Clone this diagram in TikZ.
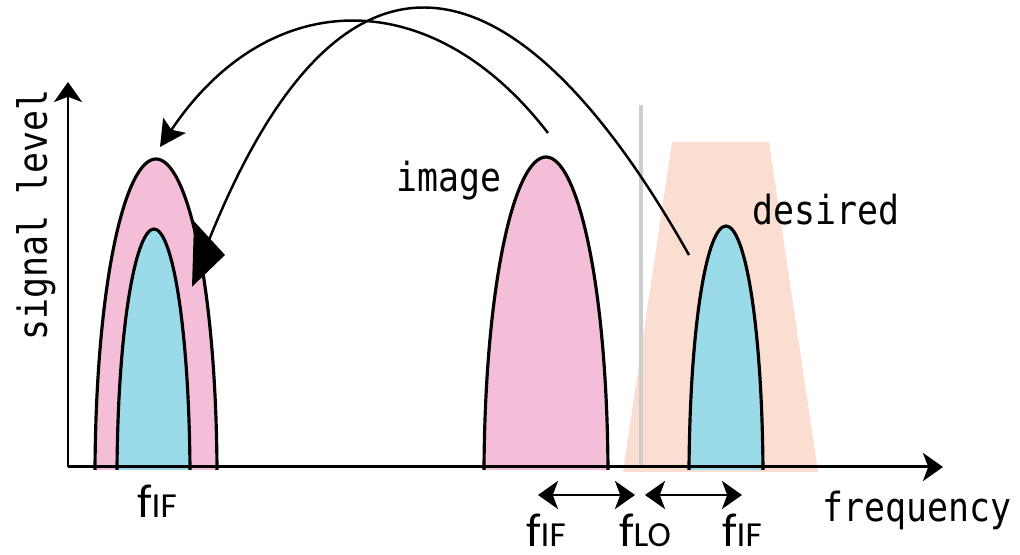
\documentclass[tikz,border=0pt]{standalone}
\usepackage{fontspec}
\usetikzlibrary{arrows.meta}
\newfontfamily\gothic[FakeStretch=0.87]{DejaVu Sans Mono}
\newfontfamily\calib{Carlito}
\newcommand\flab[1]{{\calib\fontsize{13.5}{14}\selectfont f\fontsize{10}{12}\selectfont #1}}
\definecolor{pk}{RGB}{244,190,217}
\definecolor{bl}{RGB}{155,218,232}
\definecolor{pc}{RGB}{250,222,209}
\definecolor{gr}{RGB}{205,205,205}
\tikzset{
  >={Stealth[length=5.7pt,width=8pt,inset=1.5pt]},
  ax/.style={line width=0.85pt,->},
  hp/.style={line width=0.9pt},
  arc/.style={line width=0.7pt},
  tx/.style={font=\gothic\fontsize{11.4}{12}\selectfont,inner sep=0pt,anchor=base},
  fl/.style={inner sep=0pt,anchor=base},
}
\begin{document}
\begin{tikzpicture}[x=0.01cm,y=-0.01cm]
\useasboundingbox (0,0) rectangle (1020,555);
% band around the desired signal, and f_LO
\fill[pc] (623,472)--(672,142)--(769,142)--(818,472)--cycle;
\coordinate (lo0) at (641,467); \coordinate (lo1) at (641,105);
\draw[gr,line width=1.1pt] (lo0)--(lo1);
% spectra
\draw[hp,fill=pk] (95,470) .. controls (96,283) and (125,159) .. (156,159) .. controls (187,159) and (216,283) .. (217,470);
\draw[hp,fill=bl] (117,470) .. controls (118,325) and (136,229) .. (154,229) .. controls (172,229) and (189,325) .. (190,470);
\draw[hp,fill=pk] (484,470) .. controls (485,282) and (515,157) .. (546,157) .. controls (577,157) and (607,282) .. (608,470);
\draw[hp,fill=bl] (689,470) .. controls (690,324) and (707,226) .. (726,226) .. controls (745,226) and (762,324) .. (763,470);
% axes
\coordinate (o) at (68,467); \coordinate (ytop) at (68,82); \coordinate (xend) at (943,467);
\draw[ax] (o)--(ytop); \draw[ax] (o)--(xend);
\node[tx,rotate=90] (yl) at (47,215) {signal level};
\node[tx] (frq) at (917,522) {frequency};
\node[tx] (img) at (449,192) {image};
\node[tx] (des) at (826,225) {desired};
% mixing arcs
\coordinate (a1s) at (548,133); \coordinate (a1e) at (160,147);
\coordinate (a2s) at (689,255); \coordinate (a2e) at (207,245);
\coordinate (h2b) at (193,254); \coordinate (h2t) at (225,255);
\draw[arc,-{Stealth[length=7.4pt,width=7.7pt,inset=1.5pt]}] (a1s) .. controls (430,-20) and (267,-13) .. (a1e);
\draw[arc] (a2s) .. controls (520,-45) and (344,-100) .. (a2e);
\draw[arc,-{Triangle[length=9.1pt,width=18.5pt]}] (h2b)--(h2t);
% frequency labels
\node[fl] (f0) at (157,518) {\flab{IF}};
\node[fl] (f1) at (546,547) {\flab{IF}};
\node[fl] (f2) at (645,547) {\flab{LO}};
\node[fl] (f3) at (742,547) {\flab{IF}};
\coordinate (d1) at (538,495); \coordinate (d2) at (635,495);
\coordinate (d3) at (645,495); \coordinate (d4) at (742,495);
\draw[arc,<->] (d1)--(d2); \draw[arc,<->] (d3)--(d4);
\end{tikzpicture}
\end{document}
